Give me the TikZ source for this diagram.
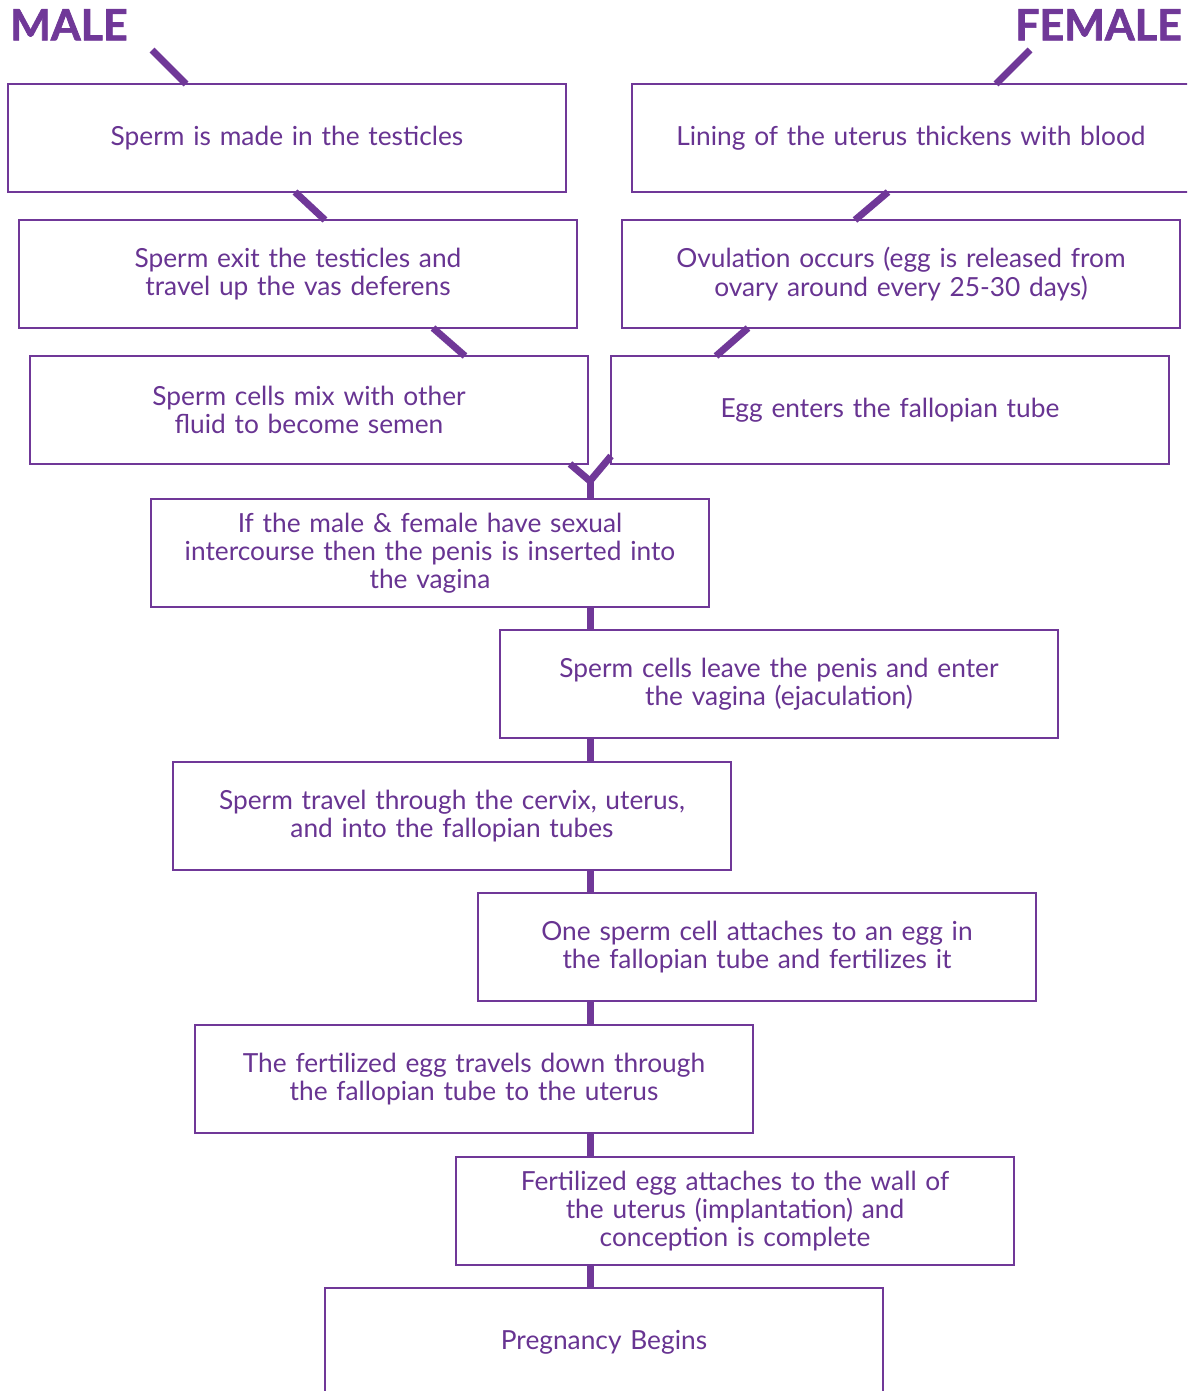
\documentclass[tikz,border=0pt]{standalone}
\usepackage{fontspec}
\setmainfont{Lato}
\newfontfamily\headfont{Lato}[BoldFeatures={FakeBold=1.6}]
\usetikzlibrary{calc}
\definecolor{purp}{RGB}{112,56,152}
\definecolor{txtp}{RGB}{104,52,146}
\begin{document}
\begin{tikzpicture}[x=1pt,y=-1pt,
  stepbox/.style={draw=purp, line width=2pt, fill=white, anchor=north west,
    minimum width=558pt, minimum height=108pt, inner sep=0pt,
    text width=545pt, align=center, text=txtp,
    font=\fontsize{26.3}{28.2}\selectfont},
  head/.style={text=purp, font=\headfont\fontsize{43}{43}\selectfont\bfseries, inner sep=0pt},
  conn/.style={draw=purp, line width=7pt}]
\useasboundingbox (0,0) rectangle (1187,1391);
\clip (0,0) rectangle (1187,1391);
\fill[white] (0,0) rectangle (1187,1391);

\node[head, anchor=north west] (male) at (10,9) {MALE};
\node[head, anchor=north east] (female) at (1182,9) {FEMALE};
\coordinate (ms) at (152,50);
\coordinate (fs) at (1030,50);
\coordinate (j) at (590,481);

\node[stepbox] (m1) at (7,83) {Sperm is made in the testicles};
\node[stepbox] (m2) at (18,219) {Sperm exit the testicles and\\travel up the vas deferens};
\node[stepbox] (m3) at (29,355) {Sperm cells mix with other\\fluid to become semen};
\node[stepbox] (f1) at (631,83) {Lining of the uterus thickens with blood};
\node[stepbox] (f2) at (621,219) {Ovulation occurs (egg is released from\\ovary around every 25-30 days)};
\node[stepbox] (f3) at (610,355) {Egg enters the fallopian tube};
\node[stepbox] (b4) at (150,498) {If the male \& female have sexual\\intercourse then the penis is inserted into\\the vagina};
\node[stepbox] (b5) at (499,629) {Sperm cells leave the penis and enter\\the vagina (ejaculation)};
\node[stepbox] (b6) at (172,761) {Sperm travel through the cervix, uterus,\\and into the fallopian tubes};
\node[stepbox] (b7) at (477,892) {One sperm cell attaches to an egg in\\the fallopian tube and fertilizes it};
\node[stepbox] (b8) at (194,1024) {The fertilized egg travels down through\\the fallopian tube to the uterus};
\node[stepbox] (b9) at (455,1156) {Fertilized egg attaches to the wall of\\the uterus (implantation) and\\conception is complete};
\node[stepbox] (b10) at (324,1287) {Pregnancy Begins};

% male branch
\draw[conn] (ms) -- ([xshift=179pt,yshift=-1pt]m1.north west);
\draw[conn] ([xshift=288pt,yshift=1pt]m1.south west) -- ([xshift=307pt,yshift=-1pt]m2.north west);
\draw[conn] ([xshift=415pt,yshift=1pt]m2.south west) -- ([xshift=436pt,yshift=-1pt]m3.north west);
% female branch
\draw[conn] (fs) -- ([xshift=365pt,yshift=-1pt]f1.north west);
\draw[conn] ([xshift=257pt,yshift=1pt]f1.south west) -- ([xshift=234pt,yshift=-1pt]f2.north west);
\draw[conn] ([xshift=127pt,yshift=1pt]f2.south west) -- ([xshift=106pt,yshift=-1pt]f3.north west);
% junction
\draw[conn] ([xshift=541pt,yshift=1pt]m3.south west) -- (j);
\draw[conn] ([xshift=1pt,yshift=9pt]f3.south west) -- (j);
\draw[conn] ([yshift=2pt]j) -- ([yshift=-1pt]j |- b4.north);
% trunk
\draw[conn] ([yshift=1pt]b4.south -| j) -- ([yshift=-1pt]b5.north -| j);
\draw[conn] ([yshift=1pt]b5.south -| j) -- ([yshift=-1pt]b6.north -| j);
\draw[conn] ([yshift=1pt]b6.south -| j) -- ([yshift=-1pt]b7.north -| j);
\draw[conn] ([yshift=1pt]b7.south -| j) -- ([yshift=-1pt]b8.north -| j);
\draw[conn] ([yshift=1pt]b8.south -| j) -- ([yshift=-1pt]b9.north -| j);
\draw[conn] ([yshift=1pt]b9.south -| j) -- ([yshift=-1pt]b10.north -| j);
\end{tikzpicture}
\end{document}
